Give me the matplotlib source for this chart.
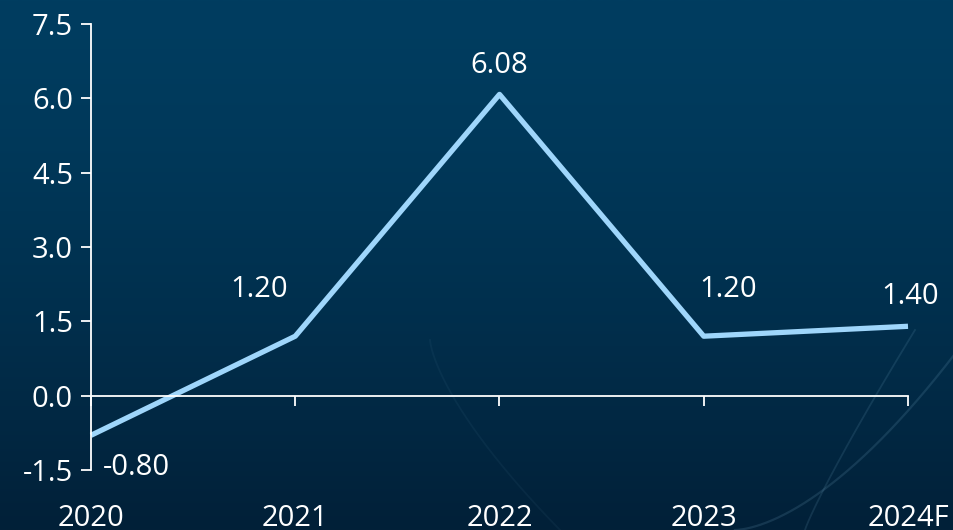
import matplotlib.pyplot as plt
import numpy as np

years = ['2020', '2021', '2022', '2023', '2024F']
values = [-0.80, 1.20, 6.08, 1.20, 1.40]
y_ticks = [-1.5, 0.0, 1.5, 3.0, 4.5, 6.0, 7.5]

plt.rcParams['font.family'] = ['Open Sans', 'DejaVu Sans']

fig = plt.figure(figsize=(9.54, 5.30), dpi=100)

# background gradient
bg = fig.add_axes([0, 0, 1, 1], zorder=0)
grad = np.linspace(0, 1, 256).reshape(-1, 1) ** 1.4
top = np.array([0, 61, 96]) / 255
bottom = np.array([2, 32, 56]) / 255
img = top * (1 - grad[..., None]) + bottom * grad[..., None]
bg.imshow(img, aspect='auto', extent=[0, 954, 0, 530])
# faint decorative curves (pixel coords, origin bottom-left)
t = np.linspace(0, 1, 200)
bg.plot(735 + 219 * t ** 0.8, 175 * t ** 1.3, color='#7fb3cf', alpha=0.16, lw=1.6)
bg.plot(805 + 110 * t, 200 * t ** 0.9, color='#7fb3cf', alpha=0.14, lw=1.3)
bg.plot(430 + 130 * t, 190 - 190 * t ** 0.7, color='#7fb3cf', alpha=0.06, lw=1.3)
bg.set_xlim(0, 954)
bg.set_ylim(0, 530)
bg.axis('off')

ax = fig.add_axes([91 / 954, 60 / 530, 817 / 954, 446 / 530], zorder=1)
ax.patch.set_alpha(0)

x = np.arange(len(years))
ax.plot(x, values, color='#9fd6fb', lw=3.8, solid_capstyle='butt', clip_on=False)

ax.set_xlim(0, 4)
ax.set_ylim(-1.5, 7.5)
ax.set_yticks(y_ticks)
ax.set_yticklabels([f'{v:.1f}' for v in y_ticks])
ax.set_xticks(x)
ax.set_xticklabels(years)

for s in ['top', 'right']:
    ax.spines[s].set_visible(False)
ax.spines['bottom'].set_position(('data', 0))
for s in ['left', 'bottom']:
    ax.spines[s].set_color('white')
    ax.spines[s].set_linewidth(1.3)

ax.tick_params(axis='y', colors='white', labelsize=21, length=7, width=1.3, pad=6)
ax.tick_params(axis='x', colors='white', labelsize=21, length=7, width=1.3,
               direction='out', pad=71)

# data labels
offsets = [(45, -32), (-36, 47), (0, 29), (24, 47), (2, 30)]
for xi, v, (dx, dy) in zip(x, values, offsets):
    ax.annotate(f'{v:.2f}', (xi, v), xytext=(dx, dy), textcoords='offset pixels',
                ha='center', va='center', color='white', fontsize=21)

fig.savefig('out.png', dpi=100)
